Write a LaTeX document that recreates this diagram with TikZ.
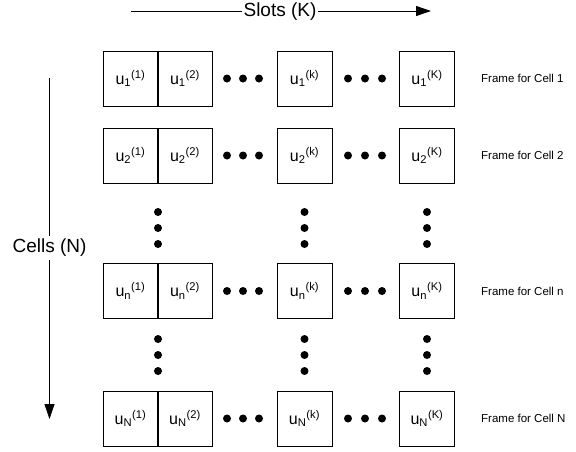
\documentclass[tikz,border=0pt]{standalone}
\usepackage{fontspec}
\setmainfont{Liberation Sans}
\usetikzlibrary{arrows.meta}

\tikzset{
  slot/.style={draw,line width=0.8pt,minimum size=55pt,inner sep=0pt,
               font=\fontsize{16}{18}\selectfont},
  framelab/.style={anchor=west,inner sep=0pt,font=\fontsize{11.5}{13}\selectfont},
  axislab/.style={font=\fontsize{19}{22}\selectfont},
  dir/.style={line width=0.8pt,-{Triangle[length=15pt,width=10pt]}}
}
% user u_i in slot j
\newcommand{\usr}[2]{u\textsubscript{#1}\textsuperscript{(#2)}}

\begin{document}
\begin{tikzpicture}[x=1pt,y=-1pt]
    \useasboundingbox (0,0) rectangle (576,451);

    % axes
    \node[axislab,inner sep=1pt] (slots) at (280,12) {Slots (K)};
    \coordinate (slotsL) at (131,11);
    \coordinate (slotsR) at (431,11);
    \draw[line width=0.8pt] (slotsL) -- (slots.west |- slotsL);
    \draw[dir] (slots.east |- slotsR) -- (slotsR);

    \node[axislab,inner sep=3pt] (cells) at (49.5,248) {Cells (N)};
    \coordinate (cellsT) at (49.5,78);
    \coordinate (cellsB) at (49.5,419);
    \draw[line width=0.8pt] (cellsT) -- (cells.north -| cellsT);
    \draw[dir] (cells.south -| cellsB) -- (cellsB);

    % row 1
    \node[slot] (u11) at (130.5,78.5) {\usr{1}{1}};
    \node[slot] (u12) at (185,78.5)   {\usr{1}{2}};
    \node[slot] (u1k) at (304.5,78.5) {\usr{1}{k}};
    \node[slot] (u1K) at (427,78.5)   {\usr{1}{K}};
    \node[framelab] (f1) at (481,78.5) {Frame for Cell 1};

    % row 2
    \node[slot] (u21) at (130.5,155.5) {\usr{2}{1}};
    \node[slot] (u22) at (185,155.5)   {\usr{2}{2}};
    \node[slot] (u2k) at (304.5,155.5) {\usr{2}{k}};
    \node[slot] (u2K) at (427,155.5)   {\usr{2}{K}};
    \node[framelab] (f2) at (481,155.5) {Frame for Cell 2};

    % row n
    \node[slot] (un1) at (130.5,291) {\usr{n}{1}};
    \node[slot] (un2) at (185,291)   {\usr{n}{2}};
    \node[slot] (unk) at (304.5,291) {\usr{n}{k}};
    \node[slot] (unK) at (427,291)   {\usr{n}{K}};
    \node[framelab] (fn) at (481,291) {Frame for Cell n};

    % row N
    \node[slot] (uN1) at (130.5,418.5) {\usr{N}{1}};
    \node[slot] (uN2) at (185,418.5)   {\usr{N}{2}};
    \node[slot] (uNk) at (304.5,418.5) {\usr{N}{k}};
    \node[slot] (uNK) at (427,418.5)   {\usr{N}{K}};
    \node[framelab] (fN) at (481,418.5) {Frame for Cell N};

    % dots between slots
    \foreach \y in {78.5,155.5,291,418.5}{
        \fill (227,\y) circle (4pt) (243,\y) circle (4pt) (259,\y) circle (4pt);
        \fill (348,\y) circle (4pt) (365,\y) circle (4pt) (382,\y) circle (4pt);
    }
    % dots between cells
    \foreach \x in {158,304.5,427}{
        \fill (\x,212) circle (4pt) (\x,228) circle (4pt) (\x,244) circle (4pt);
        \fill (\x,339) circle (4pt) (\x,355) circle (4pt) (\x,371) circle (4pt);
    }
\end{tikzpicture}
\end{document}
